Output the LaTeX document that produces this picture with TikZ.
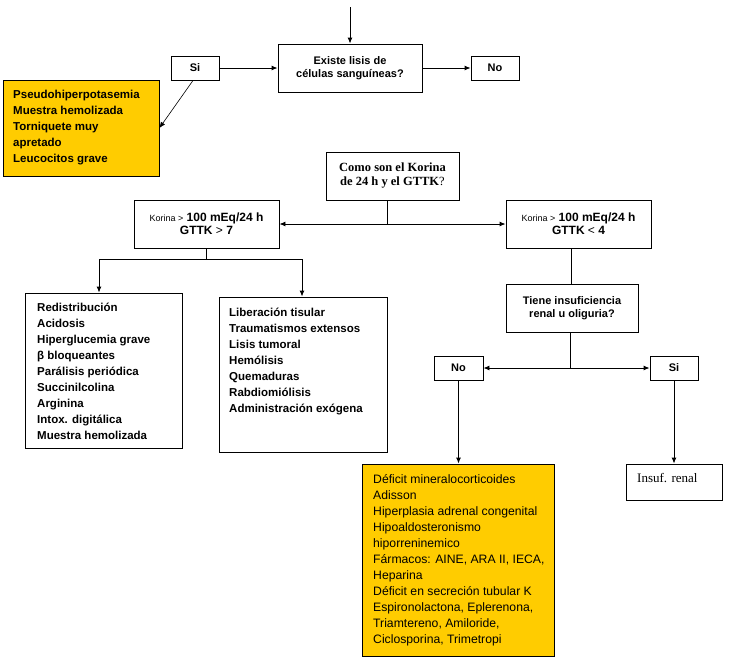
\documentclass[tikz,border=0pt]{standalone}
\usepackage{fontspec}
\setmainfont{Liberation Sans}
\newfontfamily\tnr{Liberation Serif}
\usetikzlibrary{arrows.meta}
\definecolor{gold}{HTML}{FFCC00}
\tikzset{
  bx/.style={draw, line width=0.9pt, inner sep=0pt, align=center},
  orange/.style={bx, fill=gold},
  arr/.style={line width=0.9pt, -{Latex[length=6pt,width=5pt]}},
  ln/.style={line width=0.9pt},
  qtext/.style={font=\fontsize{11}{13}\selectfont\bfseries},
  lbl/.style={font=\fontsize{11}{13}\selectfont\bfseries},
  listtext/.style={anchor=north west, inner sep=0pt, align=left, font=\fontsize{11.5}{16}\selectfont\bfseries},
  deftext/.style={anchor=north west, inner sep=0pt, align=left, font=\fontsize{12.2}{16}\selectfont},
}
\newcommand{\kor}{{\fontsize{9}{13}\selectfont\mdseries Korina >} }
\begin{document}
\begin{tikzpicture}[x=1pt,y=-1pt]
\useasboundingbox (0,0) rectangle (730,659);

% top
\coordinate (top) at (350,7);
\node[bx, qtext, minimum width=144pt, minimum height=48pt] (exist) at (350,68) {Existe lisis de\\células sanguíneas?};
\node[bx, lbl, minimum width=48pt, minimum height=24pt] (si1) at (195,68) {Si};
\node[bx, lbl, minimum width=48pt, minimum height=24pt] (no1) at (495,68) {No};
\node[orange, minimum width=156pt, minimum height=96pt] (pseudo) at (81,128) {};
\node[listtext] (pseudot) at (13,90) {Pseudohiperpotasemia\\Muestra hemolizada\\Torniquete muy\\apretado\\Leucocitos grave};

\draw[arr] (top) -- (exist.north);
\draw[arr] (si1.east) -- (exist.west);
\draw[arr] (exist.east) -- (no1.west);
\draw[line width=0.6pt, -{Latex[length=6pt,width=5pt]}] ([xshift=-2pt]si1.south) -- (pseudo.east);

% middle
\node[bx, minimum width=133pt, minimum height=48pt, font=\tnr\fontsize{12.5}{14}\selectfont\bfseries] (como) at (392.5,176) {Como son el Korina\\de 24 h y el GTTK{\mdseries ?}};
\node[bx, minimum width=145pt, minimum height=48pt, font=\fontsize{12}{13}\selectfont\bfseries] (kL) at (206.5,224) {\kor 100 mEq/24 h\\GTTK {\mdseries >} 7};
\node[bx, minimum width=145pt, minimum height=48pt, font=\fontsize{12}{13}\selectfont\bfseries] (kR) at (578.5,224) {\kor 100 mEq/24 h\\GTTK {\mdseries <} 4};
\coordinate (j1) at (387,224);
\draw[ln] ([xshift=-5.5pt]como.south) -- (j1);
\draw[arr] (j1) -- (kL.east);
\draw[arr] (j1) -- (kR.west);

% left branch
\node[bx, minimum width=157pt, minimum height=155pt] (list1) at (103.5,370.5) {};
\node[listtext] (list1t) at (37,303) {Redistribución\\Acidosis\\Hiperglucemia grave\\β bloqueantes\\Parálisis periódica\\Succinilcolina\\Arginina\\Intox. digitálica\\Muestra hemolizada};
\node[bx, minimum width=168pt, minimum height=155pt] (list2) at (303,374.5) {};
\node[listtext] (list2t) at (229,308) {Liberación tisular\\Traumatismos extensos\\Lisis tumoral\\Hemólisis\\Quemaduras\\Rabdiomiólisis\\Administración exógena};
\coordinate (j2) at (206.5,259);
\coordinate (j2l) at (99,259);
\coordinate (j2r) at (302,259);
\draw[ln] (kL.south) -- (j2);
\draw[ln] (j2l) -- (j2r);
\draw[arr] (j2l) -- (j2l |- list1.north);
\draw[arr] (j2r) -- (j2r |- list2.north);

% right branch
\node[bx, qtext, minimum width=132pt, minimum height=48pt] (tiene) at (572,308) {Tiene insuficiencia\\renal u oliguria?};
\draw[ln] ([xshift=-7.5pt]kR.south) -- ([xshift=-1pt]tiene.north);
\node[bx, lbl, minimum width=49pt, minimum height=24pt] (no2) at (458.5,368) {No};
\node[bx, lbl, minimum width=48pt, minimum height=24pt] (si2) at (674,368) {Si};
\coordinate (j3) at (570,368);
\draw[ln] ([xshift=-2pt]tiene.south) -- (j3);
\draw[arr] (j3) -- (no2.east);
\draw[arr] (j3) -- (si2.west);

\node[orange, minimum width=192pt, minimum height=192pt] (defic) at (458.5,560) {};
\node[deftext] (defict) at (373,474.5) {Déficit mineralocorticoides\\Adisson\\Hiperplasia adrenal congenital\\Hipoaldosteronismo\\hiporreninemico\\Fármacos: AINE, ARA II, IECA,\\Heparina\\Déficit en secreción tubular K\\Espironolactona, Eplerenona,\\Triamtereno, Amiloride,\\Ciclosporina, Trimetropi};
\node[bx, minimum width=96pt, minimum height=36pt] (insuf) at (674,482) {};
\node[anchor=west, inner sep=0pt, font=\tnr\fontsize{13}{14}\selectfont] (insuft) at (637,478) {Insuf. renal};
\draw[arr] (no2.south) -- (defic.north);
\draw[arr] (si2.south) -- (insuf.north);
\end{tikzpicture}
\end{document}
